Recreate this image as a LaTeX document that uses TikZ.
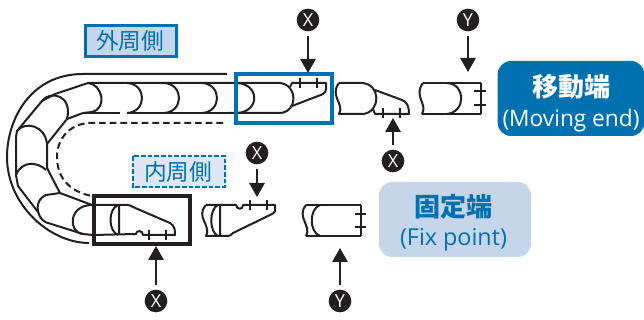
\documentclass[tikz,border=0pt]{standalone}
\usepackage{fontspec}
\setmainfont{Open Sans}
\newfontfamily\cjk{Noto Sans CJK JP}
\usetikzlibrary{arrows.meta}
\definecolor{ink}{HTML}{231F20}
\definecolor{brandblue}{HTML}{0071B0}
\definecolor{palefill}{HTML}{C5D5EA}
\definecolor{dashfill}{HTML}{DEE6F3}
\tikzset{
  x=0.75pt,y=-0.75pt,
  link/.style={draw=ink,line width=1.5pt,line join=round},
  thin link/.style={draw=ink,line width=1.1pt},
  heavy/.style={draw=ink,line width=2.2pt},
  frame/.style={draw=ink,line width=2.3pt},
  marker/.style={circle,fill=ink,minimum size=17pt,inner sep=0pt,text=white,font=\fontsize{13.5}{13.5}\selectfont},
  pointer/.style={draw=ink,line width=1.4pt,shorten <=3pt,-{Triangle[length=10.5pt,width=11.5pt]}},
  tag/.style={text=brandblue,font=\cjk\fontsize{17}{17}\selectfont,inner sep=0pt},
  endbox/.style={rounded corners=10pt,inner sep=0pt},
  endtext/.style={inner sep=0pt,align=center}
}
\begin{document}
\begin{tikzpicture}
\useasboundingbox (0,0) rectangle (644,320);
% outer and inner guides
\draw[link] (227,74) -- (83,74) .. controls (30,74) and (7,120) .. (7,157) .. controls (7,205) and (50,243) .. (89,243);
\draw[link,dash pattern=on 5pt off 3pt] (223,123) -- (88,123) .. controls (68,125) and (57,140) .. (57,157) .. controls (57,178) and (70,192) .. (92,196);
% chain outer and inner profile
\draw[link] (227,83) -- (88,83) -- (55,94) -- (42,101) -- (17,131) -- (16,137) -- (16,175) -- (18,186) -- (38,212);
\draw[link] (45,222) -- (83,234) -- (93,235);
\draw[link] (83,113) -- (120,113) (127,113) -- (227,113);
\draw[link] (83,113) -- (67,119) -- (47,144) -- (47,168) -- (60,193) -- (92,205);
% link arcs
\draw[link] (88,83) .. controls (102,84) and (108,108) .. (92,112) -- (83,113);
\foreach \a in {127,164,202}{
  \draw[link] (\a,83) .. controls (\a+20,84) and (\a+20,112) .. (\a,113);
}
\draw[link] (42,101) .. controls (50,90) and (73,95) .. (67,119);
\draw[link] (17,131) .. controls (25,121) and (45,125) .. (47,144);
\draw[link] (16,175) .. controls (22,160) and (38,162) .. (46,170);
\draw[link] (45,222) .. controls (36,216) and (34,200) .. (46,195) -- (60,193);
\draw[link] (92,205) .. controls (68,205) and (68,233) .. (83,234);
% left fixed link in black frame
\draw[link] (92,205) -- (128,205) .. controls (130,205) and (131,206) .. (133,207) -- (170,223) .. controls (175,226) and (175,230) .. (175,235) -- (143,235) .. controls (143,230) and (136,230) .. (136,234) -- (93,235);
\draw[link] (118,205) .. controls (108,209) and (108,231) .. (118,235) (119,205) -- (119,235);
\draw[thin link] (149,230) -- (149,240) (166,230) -- (166,240);
\draw[frame] (94,196) rectangle (190,244);
% blue frame link
\draw[link] (237,83) .. controls (260,84) and (260,112) .. (237,113);
\draw[link] (227,83) -- (280,83) .. controls (298,85) and (298,112) .. (280,113) -- (227,113);
\draw[link] (290,87) -- (292,83) -- (326,83) -- (326,89) .. controls (326,93) and (322,95) .. (318,96) -- (292,106);
\draw[thin link] (300,78) -- (300,88) (317,78) -- (317,88);
\draw[draw=brandblue,line width=2.5pt] (236,74) rectangle (332,123);
% moving link
\draw[link] (339,83) -- (362,83) .. controls (381,84) and (381,112) .. (363,114) -- (339,114) .. controls (345,104) and (329,96) .. (339,83);
\draw[link] (375,90) -- (402,100) .. controls (407,102) and (409,106) .. (409,114) -- (375,114) -- (373,109);
\draw[thin link] (383,108) -- (383,118) (400,108) -- (400,118);
% Y moving link
\draw[link] (423,83) -- (481,83) (422,114) -- (481,114);
\draw[link] (423,83) .. controls (413,96) and (428,104) .. (422,114);
\draw[link] (447,83) .. controls (466,84) and (466,112) .. (447,114);
\draw[heavy] (481,83) -- (481,114);
\draw[thin link] (474,91) -- (486,91) (474,105) -- (486,105);
% inner X link
\draw[link] (206,205) -- (236,205) .. controls (237,210) and (243,210) .. (243,205) -- (275,205) -- (275,211) .. controls (275,213) and (272,214) .. (270,215) -- (233,233) .. controls (231,235) and (230,236) .. (228,236) -- (206,236) .. controls (212,226) and (195,217) .. (206,205);
\draw[link] (218,205) .. controls (209,209) and (209,232) .. (218,236) (220,205) -- (220,236);
\draw[thin link] (250,200) -- (250,210) (267,200) -- (267,210);
% inner Y link
\draw[link] (306,205) -- (361,205) (306,236) -- (361,236);
\draw[link] (306,205) .. controls (296,217) and (312,226) .. (306,236);
\draw[link] (320,205) .. controls (309,209) and (309,232) .. (320,236);
\draw[heavy] (319,205) -- (328,205) (318,236) -- (328,236);
\draw[heavy] (361,205) -- (361,236);
\draw[thin link] (355,214) -- (366,214) (355,227) -- (366,227);
% markers and pointers
\node[marker] (xa) at (308,20) {X};
\coordinate (xat) at (308,73);
\draw[pointer] (xa) -- (xat);
\node[marker] (ya) at (468,20) {Y};
\coordinate (yat) at (468,72);
\draw[pointer] (ya) -- (yat);
\node[marker] (xb) at (393,161) {X};
\coordinate (xbt) at (393,118);
\draw[pointer] (xb) -- (xbt);
\node[marker] (xc) at (257,153) {X};
\coordinate (xct) at (257,197);
\draw[pointer] (xc) -- (xct);
\node[marker] (xd) at (156,301) {X};
\coordinate (xdt) at (156,246);
\draw[pointer] (xd) -- (xdt);
\node[marker] (yb) at (340,301) {Y};
\coordinate (ybt) at (340,248);
\draw[pointer] (yb) -- (ybt);
% tags
\draw[draw=brandblue,fill=palefill,line width=2.2pt] (85.5,25.5) rectangle (176.5,56.5);
\node[tag] (outer) at (130,41) {外周側};
\draw[draw=brandblue,fill=dashfill,line width=1.9pt,dash pattern=on 3.4pt off 1.6pt] (133,156) rectangle (225,187);
\node[tag] (inner) at (178,171.5) {内周側};
% end boxes
\node[endbox,fill=brandblue,minimum width=110pt,minimum height=56.25pt] (moving) at (571,98.5) {};
\node[endtext,text=white,font=\fontsize{17}{22}\selectfont] (movingtext) at (571,103) {{\cjk\bfseries\fontsize{19.5}{22}\selectfont 移動端}\\(Moving end)};
\node[endbox,fill=palefill,minimum width=114pt,minimum height=56.25pt] (fixed) at (455,219.5) {};
\node[endtext,text=brandblue,font=\fontsize{17.5}{22}\selectfont] (fixedtext) at (453.5,223) {{\cjk\bfseries\fontsize{19.5}{22}\selectfont 固定端}\\(Fix point)};
\end{tikzpicture}
\end{document}
